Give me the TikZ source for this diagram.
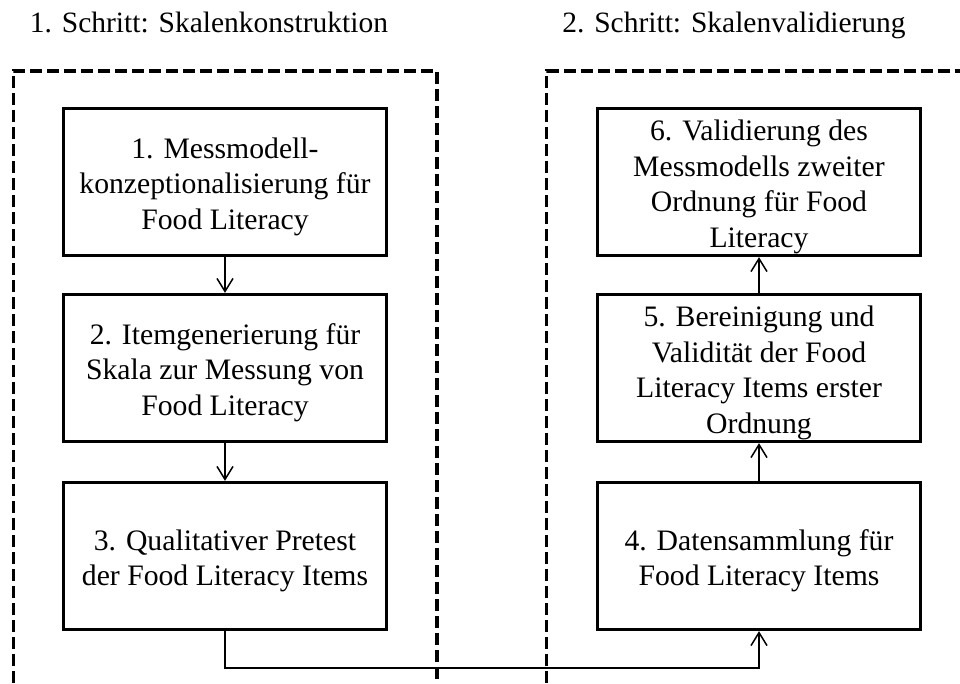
\documentclass[tikz,border=0pt]{standalone}
\usepackage{fontspec}
\setmainfont{Liberation Serif}
\usetikzlibrary{arrows.meta}
\newcommand\mytopstrut{\rule{0pt}{30pt}}
\begin{document}
\begin{tikzpicture}[x=1pt,y=-1pt,
  stepbox/.style={draw, line width=3.3pt, minimum width=323pt, minimum height=147pt,
    inner sep=0pt, align=center, font=\fontsize{29.7}{35.5}\selectfont},
  heading/.style={anchor=base, inner sep=0pt, font=\fontsize{29.5}{35.5}\selectfont},
  frame/.style={line width=3.3pt, dash pattern=on 12pt off 5pt},
  arr/.style={line width=1.5pt, -{Straight Barb[length=13pt,width=16pt,line width=1.5pt]}}]
\path[use as bounding box, clip] (0,0) rectangle (960,683);
% dashed frames
\draw[frame] (13.3,700) -- (13.3,71) -- (437,71) -- (437,700);
\draw[frame] (546.7,700) -- (546.7,71) -- (1000,71);
% headings
\node[heading] (h1) at (209,32) {1. Schritt: Skalenkonstruktion};
\node[heading] (h2) at (734,32) {2. Schritt: Skalenvalidierung};
% boxes
\node[stepbox] (b1) at (225,182) {\mytopstrut 1. Messmodell-\\konzeptionalisierung für\\Food Literacy};
\node[stepbox] (b2) at (225,368) {\mytopstrut 2. Itemgenerierung für\\Skala zur Messung von\\Food Literacy};
\node[stepbox] (b3) at (225,556) {\mytopstrut 3. Qualitativer Pretest\\der Food Literacy Items};
\node[stepbox] (b4) at (759,556) {\mytopstrut 4. Datensammlung für\\Food Literacy Items};
\node[stepbox] (b5) at (759,368) {\mytopstrut 5. Bereinigung und\\Validität der Food\\Literacy Items erster\\Ordnung};
\node[stepbox] (b6) at (759,182) {\mytopstrut 6. Validierung des\\Messmodells zweiter\\Ordnung für Food\\Literacy};
% connectors
\coordinate (low) at (0,668);
\draw[arr] (b1.south) -- (b2.north);
\draw[arr] (b2.south) -- (b3.north);
\draw[arr] (b3.south) -- (b3.south |- low) -| (b4.south);
\draw[arr] (b4.north) -- (b5.south);
\draw[arr] (b5.north) -- (b6.south);
\end{tikzpicture}
\end{document}
